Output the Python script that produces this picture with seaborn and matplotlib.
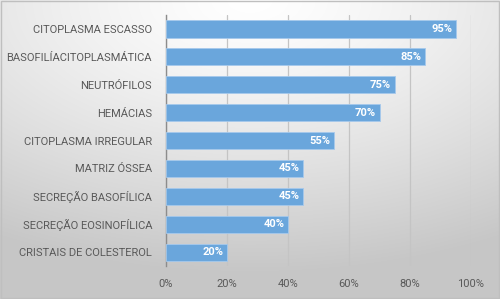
import numpy as np
import pandas as pd
import matplotlib.pyplot as plt
import seaborn as sns
from matplotlib.ticker import PercentFormatter

categorias = ['CITOPLASMA ESCASSO', 'BASOFILÍACITOPLASMÁTICA', 'NEUTRÓFILOS', 'HEMÁCIAS',
              'CITOPLASMA IRREGULAR', 'MATRIZ ÓSSEA', 'SECREÇÃO BASOFÍLICA',
              'SECREÇÃO EOSINOFÍLICA', 'CRISTAIS DE COLESTEROL']
valores = [95, 85, 75, 70, 55, 45, 45, 40, 20]
ticks = [0, 20, 40, 60, 80, 100]

df = pd.DataFrame({'cat': categorias, 'val': valores})

sns.set_style('white')
plt.rcParams['font.family'] = ['Roboto', 'DejaVu Sans']

fig = plt.figure(figsize=(5, 2.99), dpi=100)

# fundo com gradiente radial (branco no topo, cinza nas bordas)
bg = fig.add_axes([0, 0, 1, 1], zorder=-10)
yy, xx = np.mgrid[0:1:300j, 0:1:500j]
d = np.sqrt(((xx - 0.5) * 1.0) ** 2 + ((yy - 0.0) * 1.1) ** 2)
g = np.clip(1.0 - 0.22 * d ** 1.3, 0.78, 1.0)
bg.imshow(np.dstack([g, g, g]), aspect='auto', extent=[0, 1, 0, 1], origin='upper')
bg.add_patch(plt.Rectangle((0.001, 0.002), 0.997, 0.995, fill=False, ec='#bfbfbf', lw=1))
bg.set_xlim(0, 1)
bg.set_ylim(0, 1)
bg.axis('off')

ax = fig.add_axes([0.332, 0.11, 0.61, 0.84])
ax.patch.set_alpha(0)
sns.barplot(data=df, x='val', y='cat', color='#6aa6dc', saturation=1, width=0.62, ax=ax,
            edgecolor='#a6c9ec', linewidth=0.6, zorder=3)

ax.set_xlim(0, 100)
ax.set_xticks(ticks)
ax.xaxis.set_major_formatter(PercentFormatter(decimals=0))
ax.grid(axis='x', color='#c4c4c4', lw=0.9, zorder=0)
ax.set_axisbelow(True)
for s in ['top', 'right', 'bottom']:
    ax.spines[s].set_visible(False)
ax.spines['left'].set_color('#8c8c8c')
ax.spines['left'].set_linewidth(1)
ax.set_xlabel('')
ax.set_ylabel('')
ax.tick_params(axis='both', length=0, labelcolor='#595959', labelsize=8)
ax.tick_params(axis='y', pad=10)
ax.tick_params(axis='x', pad=9)

for i, v in enumerate(valores):
    ax.text(v - 1.2, i, f'{v}%', ha='right', va='center', color='white',
            fontsize=8, fontweight='bold', zorder=5)

fig.savefig('out.png', dpi=100)
